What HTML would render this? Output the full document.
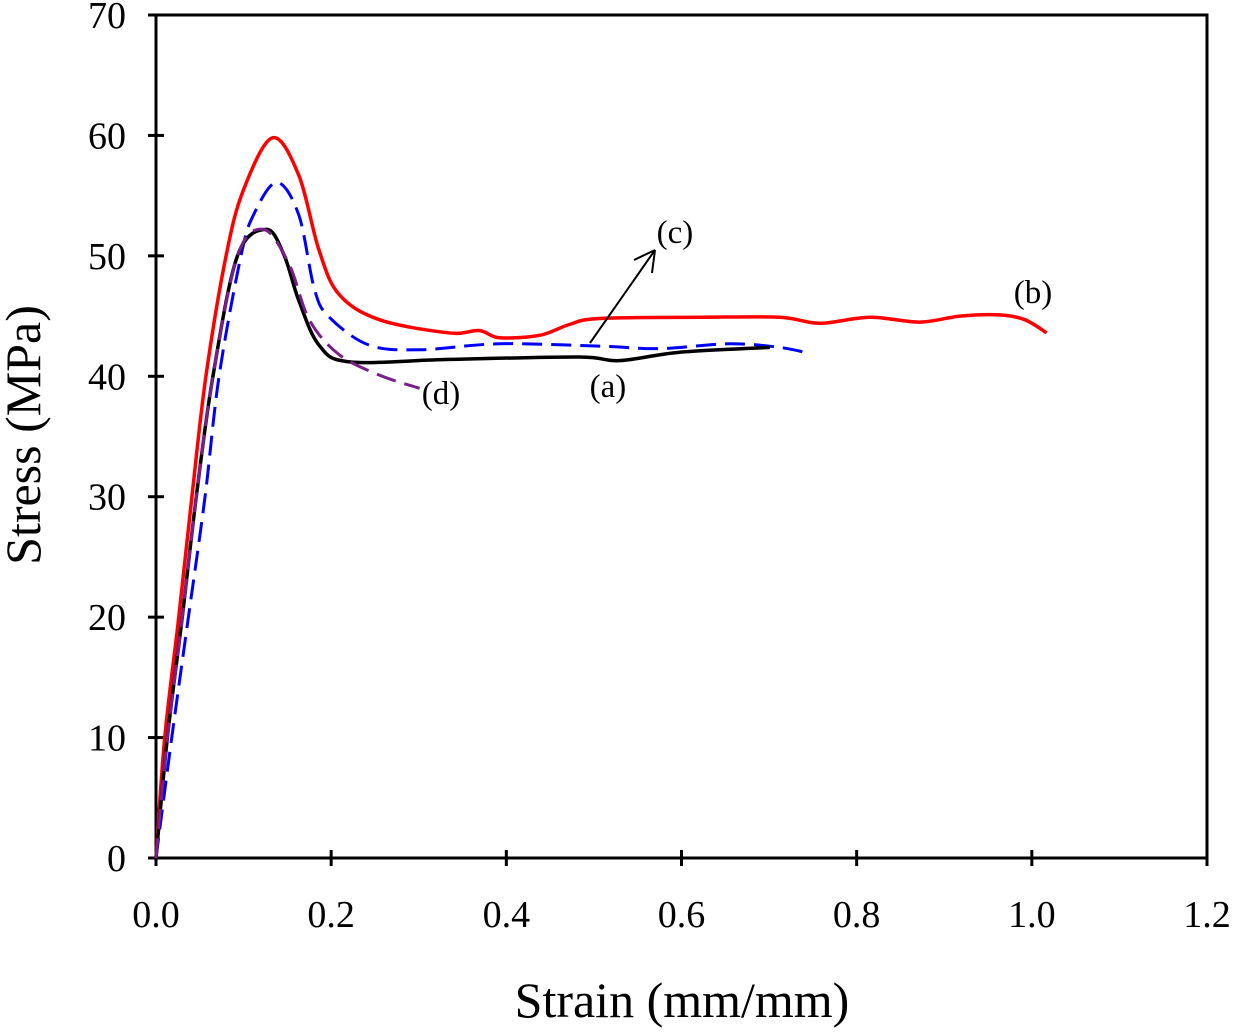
<!DOCTYPE html>
<html><head><meta charset="utf-8"><style>
html,body{margin:0;padding:0;background:#fff;}
svg text{font-family:"Liberation Serif",serif;fill:#000;}
</style></head><body>
<svg id="chart" width="1234" height="1030" viewBox="0 0 1234 1030" xmlns="http://www.w3.org/2000/svg">
<g id="axes"></g><g id="series"></g><g id="labels"></g>
</svg>
<script>
const xTicks=[0,0.2,0.4,0.6,0.8,1.0,1.2];
const xTickLabels=["0.0","0.2","0.4","0.6","0.8","1.0","1.2"];
const yTicks=[0,10,20,30,40,50,60,70];
const strainA=[0,0.013,0.03,0.046,0.065,0.093,0.126,0.146,0.163,0.186,0.221,0.335,0.483,0.529,0.598,0.701];
const stressA=[0,10,20,30,40,50,52.2,50.1,46.3,42.6,41.2,41.4,41.6,41.3,42.0,42.4];
const strainB=[0,0.01,0.026,0.041,0.057,0.08,0.1,0.133,0.163,0.186,0.209,0.255,0.335,0.369,0.392,0.438,0.472,0.506,0.621,0.712,0.758,0.815,0.872,0.918,0.963,0.992,1.017];
const stressB=[0,10,20,30,40,50,55.5,59.8,56.7,50.5,46.8,44.7,43.6,43.8,43.2,43.4,44.3,44.8,44.9,44.9,44.4,44.9,44.5,45.0,45.1,44.7,43.6];
const strainC=[0,0.018,0.037,0.056,0.072,0.097,0.112,0.138,0.163,0.181,0.198,0.243,0.301,0.392,0.506,0.575,0.655,0.712,0.746];
const stressC=[0,10,20,30,40,50,53.5,56.1,53.4,47.2,44.9,42.6,42.2,42.7,42.5,42.3,42.7,42.4,41.9];
const strainD=[0,0.013,0.03,0.046,0.065,0.093,0.123,0.152,0.175,0.209,0.255,0.301];
const stressD=[0,10,20,30,40,50,52.2,49.3,44.7,41.8,40.1,39.0];

const X0=156,X1=1207,Y0=858,Y1=15;
const xs=v=>X0+(v/1.2)*(X1-X0);
const ys=v=>Y0-(v/70)*(Y0-Y1);
const NS="http://www.w3.org/2000/svg";
function mk(tag,attrs,parent){const e=document.createElementNS(NS,tag);for(const k in attrs)e.setAttribute(k,attrs[k]);parent.appendChild(e);return e;}
const axes=document.getElementById('axes'),ser=document.getElementById('series'),lab=document.getElementById('labels');

const frame=mk('rect',{x:X0,y:Y1,width:X1-X0,height:Y0-Y1,fill:'none',stroke:'#000','stroke-width':3},axes);


xTicks.forEach((t,i)=>{
  const l=mk('line',{x1:xs(t),x2:xs(t),y1:Y0-8,y2:Y0+8,stroke:'#000','stroke-width':3},axes);
  
  
  const tx=mk('text',{x:xs(t),y:Y0+69,'font-size':38,'text-anchor':'middle'},axes);
  tx.textContent=xTickLabels[i];
  
  
});
yTicks.forEach(t=>{
  const l=mk('line',{x1:X0-8,x2:X0+8,y1:ys(t),y2:ys(t),stroke:'#000','stroke-width':3},axes);
  
  
  const tx=mk('text',{x:X0-30,y:ys(t)+13,'font-size':38,'text-anchor':'end'},axes);
  tx.textContent=String(t);
  
  
});
const xt=mk('text',{x:682,y:1017,'font-size':50,'text-anchor':'middle'},axes);
xt.textContent='Strain (mm/mm)';


const yt=mk('text',{x:0,y:0,'font-size':50,'text-anchor':'middle',transform:'translate(40,435) rotate(-90)'},axes);
yt.textContent='Stress (MPa)';



function smooth(xa,ya){
  const p=xa.map((x,i)=>[xs(x),ys(ya[i])]);
  let d='M'+p[0][0]+','+p[0][1];
  for(let i=0;i<p.length-1;i++){
    const p0=p[Math.max(0,i-1)],p1=p[i],p2=p[i+1],p3=p[Math.min(p.length-1,i+2)];
    const c1=[p1[0]+(p2[0]-p0[0])/6,p1[1]+(p2[1]-p0[1])/6];
    const c2=[p2[0]-(p3[0]-p1[0])/6,p2[1]-(p3[1]-p1[1])/6];
    d+=` C${c1[0]},${c1[1]} ${c2[0]},${c2[1]} ${p2[0]},${p2[1]}`;
  }
  return d;
}
const pa=mk('path',{d:smooth(strainB,stressB),fill:'none',stroke:'#ff0000','stroke-width':3.5},ser);


const pc=mk('path',{d:smooth(strainC,stressC),fill:'none',stroke:'#0000ff','stroke-width':3,'stroke-dasharray':'20,9'},ser);


const pb=mk('path',{d:smooth(strainA,stressA),fill:'none',stroke:'#000','stroke-width':3.5},ser);


const pd=mk('path',{d:smooth(strainD,stressD),fill:'none',stroke:'#7a1f8a','stroke-width':3,'stroke-dasharray':'20,9'},ser);



const arrow=mk('path',{d:'M590,343 L655,250 M655,250 L634,260 M655,250 L652,273',fill:'none',stroke:'#000','stroke-width':2},lab);


[['(c)',675,243],['(b)',1033,303],['(a)',608,397],['(d)',441,404]].forEach(a=>{
  const t=mk('text',{x:a[1],y:a[2],'font-size':33,'text-anchor':'middle'},lab);
  t.textContent=a[0];
  
  
});
</script>
</body></html>
